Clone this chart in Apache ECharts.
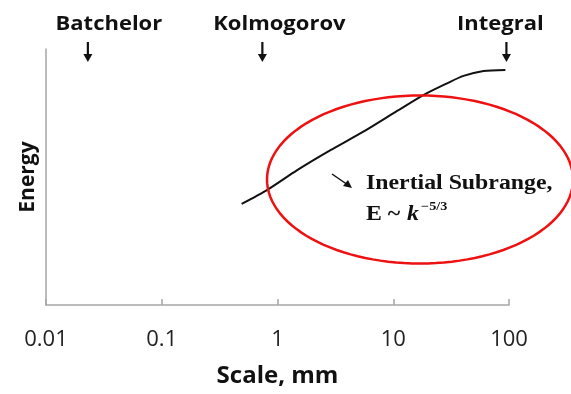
<!DOCTYPE html>
<html>
<head>
<meta charset="utf-8">
<script src="https://cdn.jsdelivr.net/npm/echarts@6/dist/echarts.min.js"></script>
<style>
  html, body { margin: 0; padding: 0; background: #ffffff; }
  #chart { width: 571px; height: 394px; }
</style>
</head>
<body>
<div id="chart"></div>
<script>
// Energy spectrum against eddy scale (log axis, mm)
const scaleMm = [0.49, 0.81, 1.48, 2.87, 5.52, 10.8, 18.2, 29.2, 40.4, 60.3, 93];
const energy  = [39.5, 44.9, 52.7, 60.5, 67.7, 75.8, 82.0, 86.6, 89.5, 91.4, 91.8];

// Characteristic length scales marked above the plot
const markerNames  = ['Batchelor', 'Kolmogorov', 'Integral'];
const markerScales = [0.023, 0.74, 95];

const xTickValues = [0.01, 0.1, 1, 10, 100];

const chart = echarts.init(document.getElementById('chart'), null, { renderer: 'canvas' });

const axisGray = '#a6a6a6';
const sansBold = { fontFamily: 'Open Sans', fontWeight: 'bold', color: '#111' };

chart.setOption({
  animation: false,
  backgroundColor: '#ffffff',
  grid: { left: 46, right: 62, top: 49, bottom: 89, containLabel: false },
  xAxis: {
    type: 'log',
    logBase: 10,
    min: xTickValues[0],
    max: xTickValues[xTickValues.length - 1],
    name: 'Scale, mm',
    nameLocation: 'middle',
    nameGap: 59,
    nameTextStyle: Object.assign({ fontSize: 24 }, sansBold),
    axisLine: { show: true, lineStyle: { color: axisGray, width: 1.5 } },
    axisTick: { show: true, inside: true, length: 6, lineStyle: { color: axisGray, width: 1.5 } },
    axisLabel: {
      margin: 24,
      fontFamily: 'Open Sans',
      fontSize: 22,
      color: '#222',
      formatter: v => String(v)
    },
    splitLine: { show: false },
    minorTick: { show: false }
  },
  yAxis: {
    type: 'value',
    min: 0,
    max: 100,
    name: 'Energy',
    nameLocation: 'middle',
    nameGap: 7,
    nameTextStyle: Object.assign({ fontSize: 21 }, sansBold),
    axisLine: { show: true, lineStyle: { color: axisGray, width: 1.5 } },
    axisTick: { show: false },
    axisLabel: { show: false },
    splitLine: { show: false }
  },
  series: [{
    type: 'line',
    data: scaleMm.map((s, i) => [s, energy[i]]),
    showSymbol: false,
    smooth: 0.25,
    lineStyle: { color: '#111', width: 2 },
    clip: false
  }]
});

// Annotations: scale markers with down arrows, the inertial-range ellipse and its label
function arrowDown(x, yTop, yBottom) {
  return [
    { type: 'line', shape: { x1: x, y1: yTop, x2: x, y2: yBottom - 6 }, style: { stroke: '#111', lineWidth: 2.2 } },
    { type: 'polygon', shape: { points: [[x - 4.5, yBottom - 8], [x + 4.5, yBottom - 8], [x, yBottom]] }, style: { fill: '#111' } }
  ];
}

const labelShift = [21, 17, -6];
const graphics = [];
markerScales.forEach((s, i) => {
  const px = chart.convertToPixel({ xAxisIndex: 0 }, s);
  graphics.push(...arrowDown(px, 42, 62));
  graphics.push({
    type: 'text',
    x: px + labelShift[i],
    y: 24,
    scaleX: 1.1,
    style: {
      text: markerNames[i], fontFamily: 'Open Sans', fontWeight: 'bold',
      fontSize: 20, fill: '#111', align: 'center', verticalAlign: 'middle'
    }
  });
});

// Ellipse outline around the inertial subrange
const ell = { cx: 420, cy: 179.5, rx: 153, ry: 84 };
const ellPts = [];
for (let k = 0; k < 120; k++) {
  const t = (k / 120) * Math.PI * 2;
  ellPts.push([ell.cx + ell.rx * Math.cos(t), ell.cy + ell.ry * Math.sin(t)]);
}
graphics.push({
  type: 'polygon',
  shape: { points: ellPts, smooth: 0 },
  style: { fill: 'none', stroke: '#ee1111', lineWidth: 2.5 },
  z: 10
});

// Small pointer arrow and label text
const serifBold = { fontFamily: 'Liberation Serif', fontWeight: 'bold', fill: '#111', align: 'left', verticalAlign: 'middle' };
graphics.push(
  { type: 'line', shape: { x1: 332, y1: 174, x2: 348, y2: 185 }, style: { stroke: '#111', lineWidth: 1.5 }, z: 11 },
  { type: 'polygon', shape: { points: [[352, 188], [343, 186], [348, 180]] }, style: { fill: '#111' }, z: 11 },
  {
    type: 'text', x: 366, y: 184, z: 11, scaleX: 1.19,
    style: Object.assign({ text: 'Inertial Subrange,', fontSize: 20 }, serifBold)
  },
  {
    type: 'text', x: 366, y: 215, z: 11, scaleX: 1.19,
    style: Object.assign({ text: 'E ~ ', fontSize: 20 }, serifBold)
  },
  {
    type: 'text', x: 407, y: 215, z: 11, scaleX: 1.19,
    style: Object.assign({ text: 'k', fontSize: 20, fontStyle: 'italic' }, serifBold)
  },
  {
    type: 'text', x: 421, y: 207, z: 11, scaleX: 1.19,
    style: Object.assign({ text: '\u22125/3', fontSize: 12 }, serifBold)
  }
);

chart.setOption({ graphic: graphics });
</script>
</body>
</html>
